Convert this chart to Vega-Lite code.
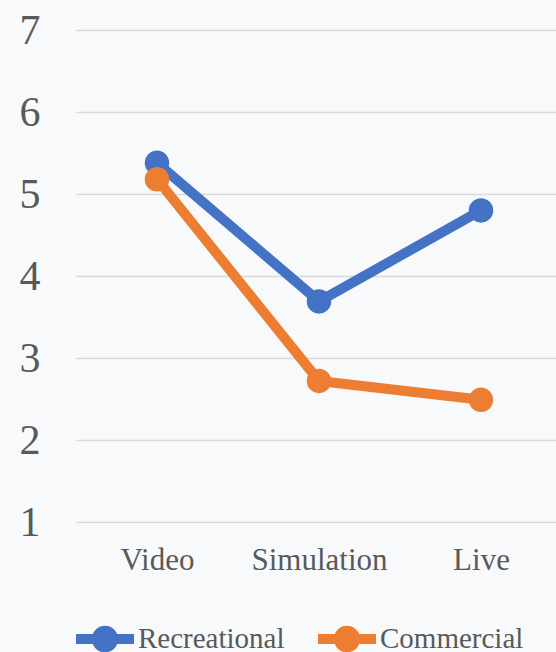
{
  "$schema": "https://vega.github.io/schema/vega-lite/v6.json",
  "width": 486,
  "height": 492,
  "autosize": {"type": "none"},
  "padding": {"left": 76, "top": 30, "right": 0, "bottom": 130},
  "background": "#F7F9FB",
  "data": {"values": [
    {"type": "Video", "group": "Recreational", "score": 5.38},
    {"type": "Simulation", "group": "Recreational", "score": 3.69},
    {"type": "Live", "group": "Recreational", "score": 4.80},
    {"type": "Video", "group": "Commercial", "score": 5.18},
    {"type": "Simulation", "group": "Commercial", "score": 2.72},
    {"type": "Live", "group": "Commercial", "score": 2.49}
  ]},
  "encoding": {
    "x": {"field": "type", "type": "nominal", "sort": ["Video", "Simulation", "Live"],
      "scale": {"type": "point", "padding": 0.5},
      "axis": {"title": null, "labelAngle": 0, "domain": false, "ticks": false, "tickSize": 0, "grid": false,
        "labelFont": "Liberation Serif", "labelFontSize": 31, "labelColor": "#595959", "labelPadding": 23}},
    "y": {"field": "score", "type": "quantitative",
      "scale": {"domain": [1, 7], "nice": false, "zero": false},
      "axis": {"title": null, "values": [1, 2, 3, 4, 5, 6, 7], "domain": false, "ticks": false, "tickSize": 0,
        "grid": true, "gridColor": "#D9D9D9", "gridWidth": 1.5,
        "labelFont": "Liberation Serif", "labelFontSize": 42, "labelColor": "#595959", "labelPadding": 36}},
    "color": {"field": "group", "type": "nominal",
      "scale": {"domain": ["Recreational", "Commercial"], "range": ["#4472C4", "#ED7D31"]},
      "legend": {"title": null, "orient": "bottom", "direction": "horizontal", "offset": 35,
        "symbolType": "M-1,-0.17L-0.42,-0.17A0.45,0.45,0,0,1,0.42,-0.17L1,-0.17L1,0.17L0.42,0.17A0.45,0.45,0,0,1,-0.42,0.17L-1,0.17Z",
        "symbolSize": 3364, "symbolStrokeWidth": 0,
        "labelFont": "Liberation Serif", "labelFontSize": 29, "labelColor": "#595959", "labelOffset": 4,
        "columnPadding": 33}}
  },
  "layer": [
    {"mark": {"type": "line", "strokeWidth": 10}},
    {"mark": {"type": "point", "filled": true, "opacity": 1, "size": 600}}
  ],
  "config": {"view": {"stroke": null}}
}
